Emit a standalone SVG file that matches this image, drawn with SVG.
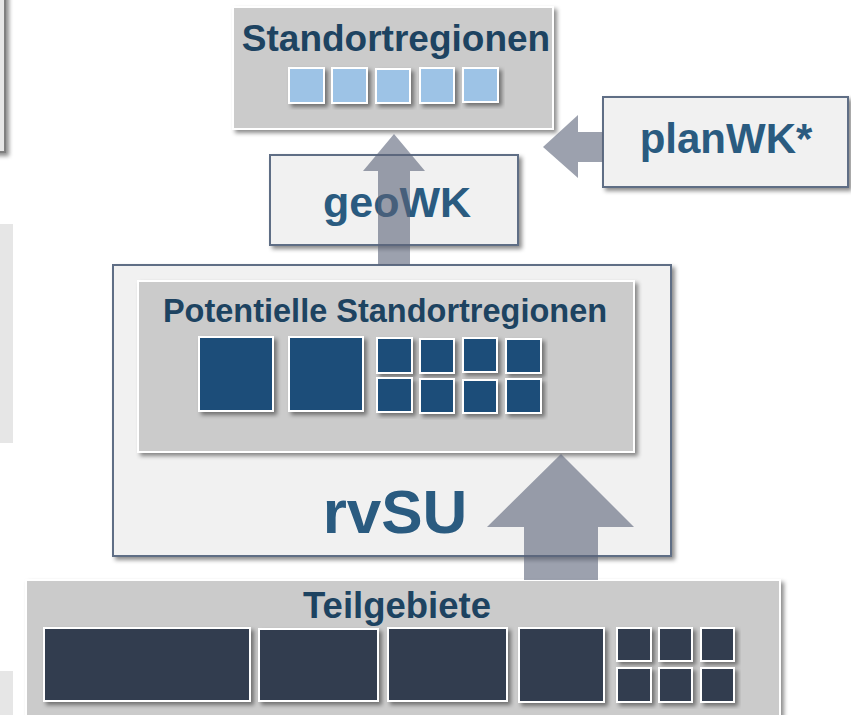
<svg xmlns="http://www.w3.org/2000/svg" width="851" height="715" viewBox="0 0 851 715">
<defs>
<filter id="sh" x="-10%" y="-10%" width="130%" height="130%">
<feDropShadow dx="3" dy="3" stdDeviation="2" flood-color="#000" flood-opacity="0.45"/>
</filter>
<style>
.gbox{fill:#CBCBCB;stroke:#FFFFFF;stroke-width:2;filter:url(#sh)}
.wbox{fill:#F1F1F1;stroke:#5E6E85;stroke-width:2;filter:url(#sh)}
.lt{fill:#9DC3E6;stroke:#FFFFFF;stroke-width:2;filter:url(#sh)}
.md{fill:#1F4E79;stroke:#FFFFFF;stroke-width:2;filter:url(#sh)}
.dk{fill:#333D50;stroke:#FFFFFF;stroke-width:2;filter:url(#sh)}
.ttl{font-family:"Liberation Sans",Arial,sans-serif;font-weight:bold;fill:#1D4361;text-anchor:middle}
.lbl{font-family:"Liberation Sans",Arial,sans-serif;font-weight:bold;fill:#2A5B80;text-anchor:middle}
.arr{fill:#5A6378;fill-opacity:0.6}
.side{fill:#E6E6E6}
</style>
</defs>
<rect width="851" height="715" fill="#FFFFFF"/>
<g id="left-edge">
<rect x="-100" y="-10" width="105" height="162" fill="#E6E6E6" stroke="#7F7F7F" stroke-width="2" filter="url(#sh)"/>
<rect class="side" x="0" y="224" width="13" height="219"/>
<rect class="side" x="0" y="671" width="13" height="50"/>
</g>
<g id="standortregionen">
<rect class="gbox" x="233" y="7" width="320" height="122"/>
<text class="ttl" x="396" y="51" font-size="37">Standortregionen</text>
<rect class="lt" x="289" y="68" width="35" height="35"/>
<rect class="lt" x="332" y="68" width="35" height="35"/>
<rect class="lt" x="376" y="69" width="34" height="34"/>
<rect class="lt" x="420" y="68" width="34" height="35"/>
<rect class="lt" x="463" y="68" width="35" height="34"/>
</g>
<g id="geoWK">
<rect class="wbox" x="270" y="155" width="248" height="90"/>
<text class="lbl" x="397" y="217" font-size="43">geoWK</text>
</g>
<g id="planWK">
<rect class="wbox" x="603" y="97" width="245" height="90"/>
<text class="lbl" x="726" y="153" font-size="42">planWK*</text>
</g>
<g id="rvSU">
<rect class="wbox" x="113" y="265" width="558" height="291"/>
<text class="lbl" x="395" y="533" font-size="62">rvSU</text>
</g>
<g id="potentielle-standortregionen">
<rect class="gbox" x="138" y="281" width="496" height="171"/>
<text class="ttl" x="385" y="322" font-size="32.5">Potentielle Standortregionen</text>
<rect class="md" x="199" y="337" width="74" height="74"/>
<rect class="md" x="289" y="337" width="74" height="74"/>
<rect class="md" x="377" y="338" width="35" height="35"/>
<rect class="md" x="420" y="339" width="34" height="34"/>
<rect class="md" x="463" y="338" width="34" height="34"/>
<rect class="md" x="506" y="339" width="35" height="34"/>
<rect class="md" x="377" y="378" width="35" height="34"/>
<rect class="md" x="420" y="379" width="34" height="34"/>
<rect class="md" x="463" y="380" width="34" height="33"/>
<rect class="md" x="506" y="379" width="35" height="34"/>
</g>
<g id="teilgebiete">
<rect class="gbox" x="26" y="580" width="754" height="150"/>
<text class="ttl" x="397" y="618" font-size="36.5">Teilgebiete</text>
<rect class="dk" x="44" y="628" width="206" height="73"/>
<rect class="dk" x="259" y="629" width="119" height="72"/>
<rect class="dk" x="388" y="628" width="119" height="73"/>
<rect class="dk" x="519" y="628" width="85" height="74"/>
<rect class="dk" x="617" y="628" width="34" height="33"/>
<rect class="dk" x="659" y="628" width="33" height="33"/>
<rect class="dk" x="701" y="628" width="33" height="33"/>
<rect class="dk" x="617" y="668" width="34" height="34"/>
<rect class="dk" x="659" y="668" width="33" height="34"/>
<rect class="dk" x="701" y="668" width="33" height="34"/>
</g>
<g id="connectors">
<polygon class="arr" points="394,134 425,171 410,171 410,265 378,265 378,171 363,171"/>
<polygon class="arr" points="543,147 578,115 578,132 603,132 603,162 578,162 578,178"/>
<polygon class="arr" points="561,454 634,527 598,527 598,580 524,580 524,527 487,527"/>
</g>
</svg>
